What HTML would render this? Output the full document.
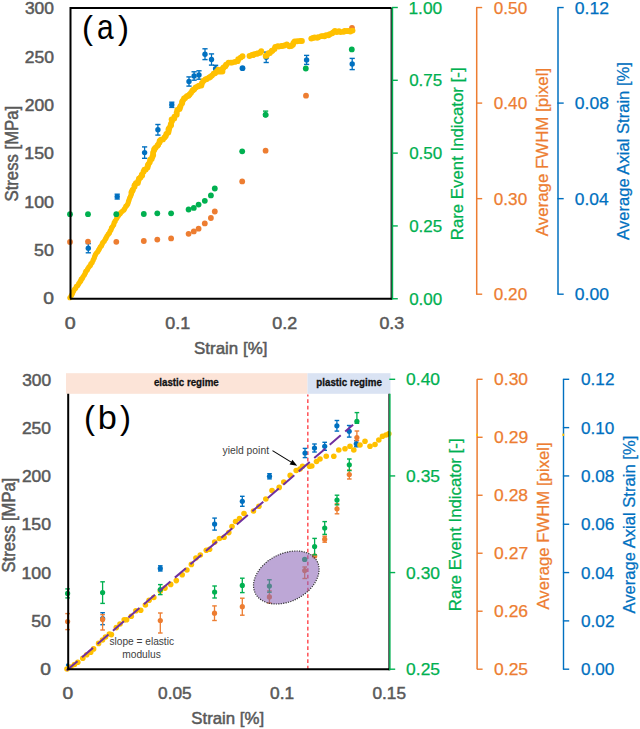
<!DOCTYPE html>
<html><head><meta charset="utf-8"><style>
html,body{margin:0;padding:0;background:#fff;width:640px;height:729px;overflow:hidden}
svg{display:block}
text{font-family:"Liberation Sans", sans-serif}
</style></head><body>
<svg width="640" height="729" viewBox="0 0 640 729">
<rect width="640" height="729" fill="#fff"/>
<text x="24.96" y="14.25" font-size="17" fill="#595959" font-weight="normal" textLength="29.00" lengthAdjust="spacingAndGlyphs" stroke="#595959" stroke-width="0.5">300</text>
<text x="24.70" y="62.55" font-size="17" fill="#595959" font-weight="normal" textLength="29.27" lengthAdjust="spacingAndGlyphs" stroke="#595959" stroke-width="0.5">250</text>
<text x="24.70" y="110.85" font-size="17" fill="#595959" font-weight="normal" textLength="29.27" lengthAdjust="spacingAndGlyphs" stroke="#595959" stroke-width="0.5">200</text>
<text x="24.29" y="159.15" font-size="17" fill="#595959" font-weight="normal" textLength="29.68" lengthAdjust="spacingAndGlyphs" stroke="#595959" stroke-width="0.5">150</text>
<text x="24.29" y="207.55" font-size="17" fill="#595959" font-weight="normal" textLength="29.68" lengthAdjust="spacingAndGlyphs" stroke="#595959" stroke-width="0.5">100</text>
<text x="34.12" y="255.85" font-size="17" fill="#595959" font-weight="normal" textLength="19.77" lengthAdjust="spacingAndGlyphs" stroke="#595959" stroke-width="0.5">50</text>
<text x="43.29" y="304.25" font-size="17" fill="#595959" font-weight="normal" textLength="10.71" lengthAdjust="spacingAndGlyphs" stroke="#595959" stroke-width="0.5">0</text>
<text x="64.88" y="328.75" font-size="17" fill="#595959" font-weight="normal" textLength="10.94" lengthAdjust="spacingAndGlyphs" stroke="#595959" stroke-width="0.5">0</text>
<text x="165.29" y="328.75" font-size="17" fill="#595959" font-weight="normal" textLength="24.89" lengthAdjust="spacingAndGlyphs" stroke="#595959" stroke-width="0.5">0.1</text>
<text x="272.29" y="328.75" font-size="17" fill="#595959" font-weight="normal" textLength="24.89" lengthAdjust="spacingAndGlyphs" stroke="#595959" stroke-width="0.5">0.2</text>
<text x="379.40" y="328.75" font-size="17" fill="#595959" font-weight="normal" textLength="24.75" lengthAdjust="spacingAndGlyphs" stroke="#595959" stroke-width="0.5">0.3</text>
<text x="194.00" y="353.75" font-size="17" fill="#595959" font-weight="normal" textLength="73.44" lengthAdjust="spacingAndGlyphs" stroke="#595959" stroke-width="0.5">Strain [%]</text>
<text transform="translate(17.70,200.70) rotate(-90)" x="-0.84" y="0" font-size="17.5" fill="#595959" font-weight="normal" textLength="95.77" lengthAdjust="spacingAndGlyphs" stroke="#595959" stroke-width="0.5">Stress [MPa]</text>
<text x="82.1" y="38.8" font-size="33" fill="#000">(</text>
<text transform="translate(98.2,39.0) scale(0.855,1)" x="-1.5" y="0" font-size="35" fill="#000">a</text>
<text x="118.05" y="38.8" font-size="33" fill="#000">)</text>
<line x1="88.30" y1="243.60" x2="88.30" y2="252.80" stroke="#0070C0" stroke-width="1.3" />
<line x1="85.70" y1="243.60" x2="90.90" y2="243.60" stroke="#0070C0" stroke-width="1.4" />
<line x1="85.70" y1="252.80" x2="90.90" y2="252.80" stroke="#0070C0" stroke-width="1.4" />
<circle cx="88.30" cy="248.20" r="2.7" fill="#0070C0"/>
<line x1="117.20" y1="194.20" x2="117.20" y2="199.00" stroke="#0070C0" stroke-width="1.3" />
<line x1="114.60" y1="194.20" x2="119.80" y2="194.20" stroke="#0070C0" stroke-width="1.4" />
<line x1="114.60" y1="199.00" x2="119.80" y2="199.00" stroke="#0070C0" stroke-width="1.4" />
<circle cx="117.20" cy="196.60" r="2.7" fill="#0070C0"/>
<line x1="144.60" y1="146.90" x2="144.60" y2="158.30" stroke="#0070C0" stroke-width="1.3" />
<line x1="142.00" y1="146.90" x2="147.20" y2="146.90" stroke="#0070C0" stroke-width="1.4" />
<line x1="142.00" y1="158.30" x2="147.20" y2="158.30" stroke="#0070C0" stroke-width="1.4" />
<circle cx="144.60" cy="152.60" r="2.7" fill="#0070C0"/>
<line x1="157.90" y1="124.50" x2="157.90" y2="135.10" stroke="#0070C0" stroke-width="1.3" />
<line x1="155.30" y1="124.50" x2="160.50" y2="124.50" stroke="#0070C0" stroke-width="1.4" />
<line x1="155.30" y1="135.10" x2="160.50" y2="135.10" stroke="#0070C0" stroke-width="1.4" />
<circle cx="157.90" cy="129.80" r="2.7" fill="#0070C0"/>
<line x1="171.80" y1="102.20" x2="171.80" y2="107.40" stroke="#0070C0" stroke-width="1.3" />
<line x1="169.20" y1="102.20" x2="174.40" y2="102.20" stroke="#0070C0" stroke-width="1.4" />
<line x1="169.20" y1="107.40" x2="174.40" y2="107.40" stroke="#0070C0" stroke-width="1.4" />
<circle cx="171.80" cy="104.80" r="2.7" fill="#0070C0"/>
<line x1="189.00" y1="76.90" x2="189.00" y2="86.10" stroke="#0070C0" stroke-width="1.3" />
<line x1="186.40" y1="76.90" x2="191.60" y2="76.90" stroke="#0070C0" stroke-width="1.4" />
<line x1="186.40" y1="86.10" x2="191.60" y2="86.10" stroke="#0070C0" stroke-width="1.4" />
<circle cx="189.00" cy="81.50" r="2.7" fill="#0070C0"/>
<line x1="194.10" y1="71.80" x2="194.10" y2="80.20" stroke="#0070C0" stroke-width="1.3" />
<line x1="191.50" y1="71.80" x2="196.70" y2="71.80" stroke="#0070C0" stroke-width="1.4" />
<line x1="191.50" y1="80.20" x2="196.70" y2="80.20" stroke="#0070C0" stroke-width="1.4" />
<circle cx="194.10" cy="76.00" r="2.7" fill="#0070C0"/>
<line x1="199.00" y1="70.80" x2="199.00" y2="79.20" stroke="#0070C0" stroke-width="1.3" />
<line x1="196.40" y1="70.80" x2="201.60" y2="70.80" stroke="#0070C0" stroke-width="1.4" />
<line x1="196.40" y1="79.20" x2="201.60" y2="79.20" stroke="#0070C0" stroke-width="1.4" />
<circle cx="199.00" cy="75.00" r="2.7" fill="#0070C0"/>
<line x1="205.00" y1="48.80" x2="205.00" y2="59.60" stroke="#0070C0" stroke-width="1.3" />
<line x1="202.40" y1="48.80" x2="207.60" y2="48.80" stroke="#0070C0" stroke-width="1.4" />
<line x1="202.40" y1="59.60" x2="207.60" y2="59.60" stroke="#0070C0" stroke-width="1.4" />
<circle cx="205.00" cy="54.20" r="2.7" fill="#0070C0"/>
<line x1="211.50" y1="53.90" x2="211.50" y2="65.10" stroke="#0070C0" stroke-width="1.3" />
<line x1="208.90" y1="53.90" x2="214.10" y2="53.90" stroke="#0070C0" stroke-width="1.4" />
<line x1="208.90" y1="65.10" x2="214.10" y2="65.10" stroke="#0070C0" stroke-width="1.4" />
<circle cx="211.50" cy="59.50" r="2.7" fill="#0070C0"/>
<line x1="215.60" y1="65.30" x2="215.60" y2="72.30" stroke="#0070C0" stroke-width="1.3" />
<line x1="213.00" y1="65.30" x2="218.20" y2="65.30" stroke="#0070C0" stroke-width="1.4" />
<line x1="213.00" y1="72.30" x2="218.20" y2="72.30" stroke="#0070C0" stroke-width="1.4" />
<circle cx="215.60" cy="68.80" r="2.7" fill="#0070C0"/>
<circle cx="242.50" cy="68.20" r="2.9" fill="#0070C0"/>
<line x1="266.20" y1="52.10" x2="266.20" y2="62.50" stroke="#0070C0" stroke-width="1.3" />
<line x1="263.60" y1="52.10" x2="268.80" y2="52.10" stroke="#0070C0" stroke-width="1.4" />
<line x1="263.60" y1="62.50" x2="268.80" y2="62.50" stroke="#0070C0" stroke-width="1.4" />
<circle cx="266.20" cy="57.30" r="2.7" fill="#0070C0"/>
<line x1="306.60" y1="55.40" x2="306.60" y2="64.40" stroke="#0070C0" stroke-width="1.3" />
<line x1="304.00" y1="55.40" x2="309.20" y2="55.40" stroke="#0070C0" stroke-width="1.4" />
<line x1="304.00" y1="64.40" x2="309.20" y2="64.40" stroke="#0070C0" stroke-width="1.4" />
<circle cx="306.60" cy="59.90" r="2.7" fill="#0070C0"/>
<line x1="352.20" y1="58.40" x2="352.20" y2="69.60" stroke="#0070C0" stroke-width="1.3" />
<line x1="349.60" y1="58.40" x2="354.80" y2="58.40" stroke="#0070C0" stroke-width="1.4" />
<line x1="349.60" y1="69.60" x2="354.80" y2="69.60" stroke="#0070C0" stroke-width="1.4" />
<circle cx="352.20" cy="64.00" r="2.7" fill="#0070C0"/>
<circle cx="70.00" cy="242.00" r="2.9" fill="#ED7D31"/>
<circle cx="88.00" cy="241.60" r="2.9" fill="#ED7D31"/>
<circle cx="116.30" cy="241.80" r="2.9" fill="#ED7D31"/>
<circle cx="143.80" cy="241.00" r="2.9" fill="#ED7D31"/>
<circle cx="157.30" cy="239.60" r="2.9" fill="#ED7D31"/>
<circle cx="171.10" cy="238.40" r="2.9" fill="#ED7D31"/>
<circle cx="188.60" cy="233.80" r="2.9" fill="#ED7D31"/>
<circle cx="193.80" cy="231.40" r="2.9" fill="#ED7D31"/>
<circle cx="198.60" cy="228.70" r="2.9" fill="#ED7D31"/>
<circle cx="204.80" cy="223.40" r="2.9" fill="#ED7D31"/>
<circle cx="210.90" cy="218.00" r="2.9" fill="#ED7D31"/>
<circle cx="214.80" cy="211.50" r="2.9" fill="#ED7D31"/>
<circle cx="242.20" cy="181.40" r="2.9" fill="#ED7D31"/>
<circle cx="265.60" cy="150.70" r="2.9" fill="#ED7D31"/>
<circle cx="306.00" cy="95.70" r="2.9" fill="#ED7D31"/>
<circle cx="352.00" cy="27.80" r="2.9" fill="#ED7D31"/>
<circle cx="69.87" cy="297.74" r="2.6" fill="#FFC000"/>
<circle cx="71.06" cy="296.01" r="2.6" fill="#FFC000"/>
<circle cx="71.93" cy="294.57" r="2.6" fill="#FFC000"/>
<circle cx="72.52" cy="293.01" r="2.6" fill="#FFC000"/>
<circle cx="73.45" cy="291.28" r="2.6" fill="#FFC000"/>
<circle cx="74.43" cy="289.36" r="2.6" fill="#FFC000"/>
<circle cx="75.64" cy="288.25" r="2.6" fill="#FFC000"/>
<circle cx="76.39" cy="286.36" r="2.6" fill="#FFC000"/>
<circle cx="77.74" cy="285.48" r="2.6" fill="#FFC000"/>
<circle cx="78.67" cy="283.64" r="2.6" fill="#FFC000"/>
<circle cx="79.94" cy="281.95" r="2.6" fill="#FFC000"/>
<circle cx="80.83" cy="280.70" r="2.6" fill="#FFC000"/>
<circle cx="81.26" cy="279.14" r="2.6" fill="#FFC000"/>
<circle cx="82.36" cy="278.24" r="2.6" fill="#FFC000"/>
<circle cx="83.18" cy="276.48" r="2.6" fill="#FFC000"/>
<circle cx="84.44" cy="274.74" r="2.6" fill="#FFC000"/>
<circle cx="85.29" cy="272.92" r="2.6" fill="#FFC000"/>
<circle cx="85.84" cy="271.45" r="2.6" fill="#FFC000"/>
<circle cx="87.22" cy="270.03" r="2.6" fill="#FFC000"/>
<circle cx="87.86" cy="268.56" r="2.6" fill="#FFC000"/>
<circle cx="88.99" cy="266.80" r="2.6" fill="#FFC000"/>
<circle cx="90.27" cy="265.55" r="2.6" fill="#FFC000"/>
<circle cx="90.88" cy="263.91" r="2.6" fill="#FFC000"/>
<circle cx="92.12" cy="262.58" r="2.6" fill="#FFC000"/>
<circle cx="93.14" cy="260.14" r="2.6" fill="#FFC000"/>
<circle cx="94.19" cy="258.01" r="2.6" fill="#FFC000"/>
<circle cx="94.64" cy="256.49" r="2.6" fill="#FFC000"/>
<circle cx="95.37" cy="254.73" r="2.6" fill="#FFC000"/>
<circle cx="96.22" cy="253.29" r="2.6" fill="#FFC000"/>
<circle cx="97.70" cy="251.65" r="2.6" fill="#FFC000"/>
<circle cx="98.71" cy="249.89" r="2.6" fill="#FFC000"/>
<circle cx="99.51" cy="248.54" r="2.6" fill="#FFC000"/>
<circle cx="100.36" cy="246.87" r="2.6" fill="#FFC000"/>
<circle cx="101.49" cy="245.73" r="2.6" fill="#FFC000"/>
<circle cx="102.16" cy="244.02" r="2.6" fill="#FFC000"/>
<circle cx="102.79" cy="242.55" r="2.6" fill="#FFC000"/>
<circle cx="104.17" cy="241.27" r="2.6" fill="#FFC000"/>
<circle cx="105.24" cy="239.24" r="2.6" fill="#FFC000"/>
<circle cx="106.09" cy="237.88" r="2.6" fill="#FFC000"/>
<circle cx="106.99" cy="236.07" r="2.6" fill="#FFC000"/>
<circle cx="108.28" cy="234.16" r="2.6" fill="#FFC000"/>
<circle cx="109.37" cy="233.00" r="2.6" fill="#FFC000"/>
<circle cx="110.12" cy="230.99" r="2.6" fill="#FFC000"/>
<circle cx="111.02" cy="229.83" r="2.6" fill="#FFC000"/>
<circle cx="111.49" cy="227.89" r="2.6" fill="#FFC000"/>
<circle cx="112.54" cy="226.59" r="2.6" fill="#FFC000"/>
<circle cx="113.69" cy="224.70" r="2.6" fill="#FFC000"/>
<circle cx="114.23" cy="222.49" r="2.6" fill="#FFC000"/>
<circle cx="115.24" cy="220.96" r="2.6" fill="#FFC000"/>
<circle cx="116.64" cy="218.54" r="2.6" fill="#FFC000"/>
<circle cx="117.29" cy="217.00" r="2.6" fill="#FFC000"/>
<circle cx="118.57" cy="215.59" r="2.6" fill="#FFC000"/>
<circle cx="120.07" cy="213.82" r="2.6" fill="#FFC000"/>
<circle cx="120.80" cy="212.54" r="2.6" fill="#FFC000"/>
<circle cx="122.25" cy="211.25" r="2.6" fill="#FFC000"/>
<circle cx="123.86" cy="209.94" r="2.6" fill="#FFC000"/>
<circle cx="124.71" cy="208.49" r="2.6" fill="#FFC000"/>
<circle cx="125.78" cy="206.44" r="2.6" fill="#FFC000"/>
<circle cx="126.90" cy="205.36" r="2.6" fill="#FFC000"/>
<circle cx="127.83" cy="203.75" r="2.6" fill="#FFC000"/>
<circle cx="128.42" cy="201.82" r="2.6" fill="#FFC000"/>
<circle cx="128.94" cy="200.20" r="2.6" fill="#FFC000"/>
<circle cx="129.65" cy="197.98" r="2.6" fill="#FFC000"/>
<circle cx="130.50" cy="196.25" r="2.6" fill="#FFC000"/>
<circle cx="131.34" cy="194.36" r="2.6" fill="#FFC000"/>
<circle cx="131.45" cy="192.38" r="2.95" fill="#FFC000"/>
<circle cx="132.30" cy="190.82" r="2.95" fill="#FFC000"/>
<circle cx="132.89" cy="189.71" r="2.95" fill="#FFC000"/>
<circle cx="134.47" cy="186.75" r="2.95" fill="#FFC000"/>
<circle cx="134.63" cy="185.17" r="2.95" fill="#FFC000"/>
<circle cx="135.94" cy="183.31" r="2.95" fill="#FFC000"/>
<circle cx="137.80" cy="183.10" r="2.95" fill="#FFC000"/>
<circle cx="138.37" cy="180.82" r="2.95" fill="#FFC000"/>
<circle cx="138.94" cy="178.72" r="2.95" fill="#FFC000"/>
<circle cx="140.46" cy="177.45" r="2.95" fill="#FFC000"/>
<circle cx="142.12" cy="175.42" r="2.95" fill="#FFC000"/>
<circle cx="141.83" cy="174.73" r="2.95" fill="#FFC000"/>
<circle cx="143.52" cy="171.64" r="2.95" fill="#FFC000"/>
<circle cx="144.46" cy="169.59" r="2.95" fill="#FFC000"/>
<circle cx="145.71" cy="169.48" r="2.95" fill="#FFC000"/>
<circle cx="147.48" cy="167.53" r="2.95" fill="#FFC000"/>
<circle cx="147.84" cy="165.50" r="2.95" fill="#FFC000"/>
<circle cx="148.44" cy="164.23" r="2.95" fill="#FFC000"/>
<circle cx="149.73" cy="162.36" r="2.95" fill="#FFC000"/>
<circle cx="150.16" cy="159.64" r="2.95" fill="#FFC000"/>
<circle cx="151.63" cy="158.91" r="2.95" fill="#FFC000"/>
<circle cx="152.43" cy="156.76" r="2.95" fill="#FFC000"/>
<circle cx="153.18" cy="154.90" r="2.95" fill="#FFC000"/>
<circle cx="153.09" cy="152.81" r="2.95" fill="#FFC000"/>
<circle cx="154.08" cy="150.32" r="2.95" fill="#FFC000"/>
<circle cx="154.39" cy="148.94" r="2.95" fill="#FFC000"/>
<circle cx="155.54" cy="147.80" r="2.95" fill="#FFC000"/>
<circle cx="157.38" cy="145.68" r="2.95" fill="#FFC000"/>
<circle cx="158.16" cy="144.73" r="2.95" fill="#FFC000"/>
<circle cx="159.48" cy="142.50" r="2.95" fill="#FFC000"/>
<circle cx="159.68" cy="140.99" r="2.95" fill="#FFC000"/>
<circle cx="160.95" cy="139.66" r="2.95" fill="#FFC000"/>
<circle cx="162.89" cy="139.40" r="2.95" fill="#FFC000"/>
<circle cx="164.51" cy="137.47" r="2.95" fill="#FFC000"/>
<circle cx="165.73" cy="136.10" r="2.95" fill="#FFC000"/>
<circle cx="166.38" cy="134.04" r="2.95" fill="#FFC000"/>
<circle cx="168.29" cy="132.57" r="2.95" fill="#FFC000"/>
<circle cx="168.73" cy="130.47" r="2.95" fill="#FFC000"/>
<circle cx="168.54" cy="129.28" r="2.95" fill="#FFC000"/>
<circle cx="169.45" cy="127.65" r="2.95" fill="#FFC000"/>
<circle cx="171.03" cy="125.24" r="2.95" fill="#FFC000"/>
<circle cx="170.80" cy="124.27" r="2.95" fill="#FFC000"/>
<circle cx="171.91" cy="121.31" r="2.95" fill="#FFC000"/>
<circle cx="171.64" cy="119.48" r="2.95" fill="#FFC000"/>
<circle cx="174.21" cy="118.61" r="2.95" fill="#FFC000"/>
<circle cx="174.47" cy="116.79" r="2.95" fill="#FFC000"/>
<circle cx="176.67" cy="114.66" r="2.95" fill="#FFC000"/>
<circle cx="176.68" cy="112.62" r="2.95" fill="#FFC000"/>
<circle cx="177.30" cy="109.95" r="2.95" fill="#FFC000"/>
<circle cx="179.51" cy="109.02" r="2.95" fill="#FFC000"/>
<circle cx="179.77" cy="107.73" r="2.95" fill="#FFC000"/>
<circle cx="180.57" cy="105.92" r="2.95" fill="#FFC000"/>
<circle cx="182.09" cy="103.22" r="2.95" fill="#FFC000"/>
<circle cx="182.16" cy="101.62" r="2.95" fill="#FFC000"/>
<circle cx="183.08" cy="100.35" r="2.95" fill="#FFC000"/>
<circle cx="184.04" cy="98.38" r="2.95" fill="#FFC000"/>
<circle cx="185.17" cy="97.98" r="2.95" fill="#FFC000"/>
<circle cx="186.82" cy="96.16" r="2.95" fill="#FFC000"/>
<circle cx="188.49" cy="95.69" r="2.95" fill="#FFC000"/>
<circle cx="189.56" cy="94.57" r="2.95" fill="#FFC000"/>
<circle cx="191.00" cy="92.85" r="2.95" fill="#FFC000"/>
<circle cx="192.34" cy="90.78" r="2.95" fill="#FFC000"/>
<circle cx="193.51" cy="89.72" r="2.95" fill="#FFC000"/>
<circle cx="194.16" cy="89.35" r="2.95" fill="#FFC000"/>
<circle cx="195.71" cy="87.56" r="2.95" fill="#FFC000"/>
<circle cx="197.84" cy="86.38" r="2.95" fill="#FFC000"/>
<circle cx="199.11" cy="85.68" r="2.95" fill="#FFC000"/>
<circle cx="201.33" cy="85.43" r="2.95" fill="#FFC000"/>
<circle cx="201.91" cy="83.22" r="2.95" fill="#FFC000"/>
<circle cx="203.37" cy="80.93" r="2.95" fill="#FFC000"/>
<circle cx="205.41" cy="79.41" r="2.95" fill="#FFC000"/>
<circle cx="206.76" cy="78.96" r="2.95" fill="#FFC000"/>
<circle cx="208.95" cy="77.65" r="2.95" fill="#FFC000"/>
<circle cx="210.17" cy="76.91" r="2.95" fill="#FFC000"/>
<circle cx="211.89" cy="75.61" r="2.95" fill="#FFC000"/>
<circle cx="213.68" cy="73.80" r="2.95" fill="#FFC000"/>
<circle cx="214.97" cy="73.16" r="2.95" fill="#FFC000"/>
<circle cx="216.55" cy="71.81" r="2.95" fill="#FFC000"/>
<circle cx="218.16" cy="69.64" r="2.95" fill="#FFC000"/>
<circle cx="219.79" cy="71.66" r="2.95" fill="#FFC000"/>
<circle cx="222.41" cy="71.46" r="2.95" fill="#FFC000"/>
<circle cx="222.11" cy="70.31" r="2.95" fill="#FFC000"/>
<circle cx="222.81" cy="68.41" r="2.95" fill="#FFC000"/>
<circle cx="223.58" cy="67.45" r="2.95" fill="#FFC000"/>
<circle cx="225.43" cy="66.20" r="2.95" fill="#FFC000"/>
<circle cx="226.15" cy="64.69" r="2.95" fill="#FFC000"/>
<circle cx="228.57" cy="62.60" r="2.95" fill="#FFC000"/>
<circle cx="230.57" cy="62.60" r="2.95" fill="#FFC000"/>
<circle cx="232.08" cy="62.58" r="2.95" fill="#FFC000"/>
<circle cx="234.85" cy="61.88" r="2.95" fill="#FFC000"/>
<circle cx="237.61" cy="61.15" r="2.95" fill="#FFC000"/>
<circle cx="238.24" cy="59.30" r="2.95" fill="#FFC000"/>
<circle cx="240.65" cy="57.58" r="2.95" fill="#FFC000"/>
<circle cx="242.50" cy="56.25" r="2.95" fill="#FFC000"/>
<circle cx="249.54" cy="55.98" r="2.95" fill="#FFC000"/>
<circle cx="252.00" cy="54.91" r="2.95" fill="#FFC000"/>
<circle cx="253.41" cy="54.93" r="2.95" fill="#FFC000"/>
<circle cx="254.28" cy="54.15" r="2.95" fill="#FFC000"/>
<circle cx="256.75" cy="53.63" r="2.95" fill="#FFC000"/>
<circle cx="257.47" cy="53.55" r="2.95" fill="#FFC000"/>
<circle cx="260.12" cy="52.75" r="2.95" fill="#FFC000"/>
<circle cx="261.25" cy="51.25" r="2.95" fill="#FFC000"/>
<circle cx="265.66" cy="55.90" r="2.95" fill="#FFC000"/>
<circle cx="266.81" cy="55.42" r="2.95" fill="#FFC000"/>
<circle cx="268.41" cy="53.19" r="2.95" fill="#FFC000"/>
<circle cx="269.88" cy="53.12" r="2.95" fill="#FFC000"/>
<circle cx="271.73" cy="50.89" r="2.95" fill="#FFC000"/>
<circle cx="272.29" cy="50.63" r="2.95" fill="#FFC000"/>
<circle cx="274.48" cy="49.05" r="2.95" fill="#FFC000"/>
<circle cx="275.32" cy="46.84" r="2.95" fill="#FFC000"/>
<circle cx="277.78" cy="46.14" r="2.95" fill="#FFC000"/>
<circle cx="278.76" cy="46.58" r="2.95" fill="#FFC000"/>
<circle cx="281.50" cy="46.05" r="2.95" fill="#FFC000"/>
<circle cx="282.54" cy="45.83" r="2.95" fill="#FFC000"/>
<circle cx="284.38" cy="45.54" r="2.95" fill="#FFC000"/>
<circle cx="286.83" cy="44.46" r="2.95" fill="#FFC000"/>
<circle cx="289.33" cy="46.29" r="2.95" fill="#FFC000"/>
<circle cx="291.25" cy="46.04" r="2.95" fill="#FFC000"/>
<circle cx="292.87" cy="44.64" r="2.95" fill="#FFC000"/>
<circle cx="293.48" cy="42.96" r="2.95" fill="#FFC000"/>
<circle cx="294.63" cy="41.45" r="2.95" fill="#FFC000"/>
<circle cx="297.22" cy="41.31" r="2.95" fill="#FFC000"/>
<circle cx="300.09" cy="40.98" r="2.95" fill="#FFC000"/>
<circle cx="301.90" cy="41.00" r="2.95" fill="#FFC000"/>
<circle cx="311.30" cy="38.62" r="2.95" fill="#FFC000"/>
<circle cx="312.95" cy="37.90" r="2.95" fill="#FFC000"/>
<circle cx="314.68" cy="37.42" r="2.95" fill="#FFC000"/>
<circle cx="317.27" cy="37.75" r="2.95" fill="#FFC000"/>
<circle cx="318.33" cy="37.16" r="2.95" fill="#FFC000"/>
<circle cx="321.33" cy="36.13" r="2.95" fill="#FFC000"/>
<circle cx="323.03" cy="36.15" r="2.95" fill="#FFC000"/>
<circle cx="324.42" cy="36.28" r="2.95" fill="#FFC000"/>
<circle cx="326.14" cy="35.31" r="2.95" fill="#FFC000"/>
<circle cx="328.44" cy="35.28" r="2.95" fill="#FFC000"/>
<circle cx="329.78" cy="34.32" r="2.95" fill="#FFC000"/>
<circle cx="332.19" cy="33.28" r="2.95" fill="#FFC000"/>
<circle cx="333.60" cy="32.11" r="2.95" fill="#FFC000"/>
<circle cx="334.93" cy="31.04" r="2.95" fill="#FFC000"/>
<circle cx="336.83" cy="31.96" r="2.95" fill="#FFC000"/>
<circle cx="338.98" cy="31.09" r="2.95" fill="#FFC000"/>
<circle cx="340.60" cy="32.11" r="2.95" fill="#FFC000"/>
<circle cx="343.66" cy="31.86" r="2.95" fill="#FFC000"/>
<circle cx="344.65" cy="31.01" r="2.95" fill="#FFC000"/>
<circle cx="346.55" cy="31.14" r="2.95" fill="#FFC000"/>
<circle cx="348.23" cy="30.92" r="2.95" fill="#FFC000"/>
<circle cx="350.26" cy="31.49" r="2.95" fill="#FFC000"/>
<circle cx="352.50" cy="30.60" r="2.95" fill="#FFC000"/>
<circle cx="70.00" cy="214.20" r="2.9" fill="#00B050"/>
<circle cx="88.00" cy="214.20" r="2.9" fill="#00B050"/>
<circle cx="116.30" cy="214.20" r="2.9" fill="#00B050"/>
<circle cx="143.80" cy="214.00" r="2.9" fill="#00B050"/>
<circle cx="157.30" cy="213.30" r="2.9" fill="#00B050"/>
<circle cx="171.10" cy="213.30" r="2.9" fill="#00B050"/>
<circle cx="188.60" cy="209.50" r="2.9" fill="#00B050"/>
<circle cx="193.80" cy="207.90" r="2.9" fill="#00B050"/>
<circle cx="198.60" cy="204.60" r="2.9" fill="#00B050"/>
<circle cx="204.80" cy="200.80" r="2.9" fill="#00B050"/>
<circle cx="210.90" cy="195.40" r="2.9" fill="#00B050"/>
<circle cx="214.80" cy="188.50" r="2.9" fill="#00B050"/>
<circle cx="242.20" cy="151.30" r="2.9" fill="#00B050"/>
<circle cx="265.60" cy="114.80" r="2.9" fill="#00B050"/>
<circle cx="305.80" cy="68.50" r="2.9" fill="#00B050"/>
<circle cx="351.80" cy="49.40" r="2.9" fill="#00B050"/>
<line x1="265.60" y1="111.10" x2="265.60" y2="116.00" stroke="#00B050" stroke-width="1.3" />
<line x1="263.00" y1="111.10" x2="268.20" y2="111.10" stroke="#00B050" stroke-width="1.4" />
<line x1="263.00" y1="116.00" x2="268.20" y2="116.00" stroke="#00B050" stroke-width="1.4" />
<circle cx="265.60" cy="114.80" r="2.7" fill="#00B050"/>
<path d="M70.5,298.6 L70.5,8 L391.5,8" fill="none" stroke="#000" stroke-width="2"/>
<line x1="70.00" y1="298.75" x2="392.00" y2="298.75" stroke="#000" stroke-width="2" />
<line x1="391.20" y1="8.00" x2="391.20" y2="299.50" stroke="#000" stroke-width="1.2" />
<line x1="392.50" y1="7.50" x2="392.50" y2="299.50" stroke="#00B050" stroke-width="1.4" />
<line x1="392.00" y1="7.50" x2="397.80" y2="7.50" stroke="#00B050" stroke-width="1.4" />
<text x="408.48" y="13.50" font-size="16.5" fill="#00B050" font-weight="normal" textLength="33.79" lengthAdjust="spacingAndGlyphs" stroke="#00B050" stroke-width="0.25">1.00</text>
<line x1="392.00" y1="80.31" x2="397.80" y2="80.31" stroke="#00B050" stroke-width="1.4" />
<text x="409.16" y="86.31" font-size="16.5" fill="#00B050" font-weight="normal" textLength="33.10" lengthAdjust="spacingAndGlyphs" stroke="#00B050" stroke-width="0.25">0.75</text>
<line x1="392.00" y1="153.12" x2="397.80" y2="153.12" stroke="#00B050" stroke-width="1.4" />
<text x="409.16" y="159.12" font-size="16.5" fill="#00B050" font-weight="normal" textLength="33.10" lengthAdjust="spacingAndGlyphs" stroke="#00B050" stroke-width="0.25">0.50</text>
<line x1="392.00" y1="225.94" x2="397.80" y2="225.94" stroke="#00B050" stroke-width="1.4" />
<text x="409.16" y="231.94" font-size="16.5" fill="#00B050" font-weight="normal" textLength="33.10" lengthAdjust="spacingAndGlyphs" stroke="#00B050" stroke-width="0.25">0.25</text>
<line x1="392.00" y1="298.75" x2="397.80" y2="298.75" stroke="#00B050" stroke-width="1.4" />
<text x="409.16" y="304.75" font-size="16.5" fill="#00B050" font-weight="normal" textLength="33.10" lengthAdjust="spacingAndGlyphs" stroke="#00B050" stroke-width="0.25">0.00</text>
<text transform="translate(463.20,238.90) rotate(-90)" x="-1.36" y="0" font-size="17" fill="#00B050" font-weight="normal" textLength="172.82" lengthAdjust="spacingAndGlyphs" stroke="#00B050" stroke-width="0.25">Rare Event Indicator [-]</text>
<line x1="476.70" y1="7.50" x2="476.70" y2="294.30" stroke="#ED7D31" stroke-width="1.5" />
<line x1="476.10" y1="7.55" x2="482.20" y2="7.55" stroke="#ED7D31" stroke-width="1.4" />
<text x="493.85" y="13.55" font-size="16.5" fill="#ED7D31" font-weight="normal" textLength="33.31" lengthAdjust="spacingAndGlyphs" stroke="#ED7D31" stroke-width="0.25">0.50</text>
<line x1="476.10" y1="103.10" x2="482.20" y2="103.10" stroke="#ED7D31" stroke-width="1.4" />
<text x="493.85" y="109.10" font-size="16.5" fill="#ED7D31" font-weight="normal" textLength="33.31" lengthAdjust="spacingAndGlyphs" stroke="#ED7D31" stroke-width="0.25">0.40</text>
<line x1="476.10" y1="198.65" x2="482.20" y2="198.65" stroke="#ED7D31" stroke-width="1.4" />
<text x="493.85" y="204.65" font-size="16.5" fill="#ED7D31" font-weight="normal" textLength="33.31" lengthAdjust="spacingAndGlyphs" stroke="#ED7D31" stroke-width="0.25">0.30</text>
<line x1="476.10" y1="294.20" x2="482.20" y2="294.20" stroke="#ED7D31" stroke-width="1.4" />
<text x="493.85" y="300.20" font-size="16.5" fill="#ED7D31" font-weight="normal" textLength="33.31" lengthAdjust="spacingAndGlyphs" stroke="#ED7D31" stroke-width="0.25">0.20</text>
<text transform="translate(548.00,236.20) rotate(-90)" x="-0.00" y="0" font-size="17" fill="#ED7D31" font-weight="normal" textLength="168.33" lengthAdjust="spacingAndGlyphs" stroke="#ED7D31" stroke-width="0.25">Average FWHM [pixel]</text>
<line x1="558.00" y1="7.50" x2="558.00" y2="294.30" stroke="#0070C0" stroke-width="1.5" />
<line x1="557.40" y1="7.55" x2="563.70" y2="7.55" stroke="#0070C0" stroke-width="1.4" />
<text x="574.83" y="13.55" font-size="16.5" fill="#0070C0" font-weight="normal" textLength="34.29" lengthAdjust="spacingAndGlyphs" stroke="#0070C0" stroke-width="0.25">0.12</text>
<line x1="557.40" y1="103.10" x2="563.70" y2="103.10" stroke="#0070C0" stroke-width="1.4" />
<text x="574.84" y="109.10" font-size="16.5" fill="#0070C0" font-weight="normal" textLength="34.15" lengthAdjust="spacingAndGlyphs" stroke="#0070C0" stroke-width="0.25">0.08</text>
<line x1="557.40" y1="198.65" x2="563.70" y2="198.65" stroke="#0070C0" stroke-width="1.4" />
<text x="574.84" y="204.65" font-size="16.5" fill="#0070C0" font-weight="normal" textLength="33.87" lengthAdjust="spacingAndGlyphs" stroke="#0070C0" stroke-width="0.25">0.04</text>
<line x1="557.40" y1="294.20" x2="563.70" y2="294.20" stroke="#0070C0" stroke-width="1.4" />
<text x="574.84" y="300.20" font-size="16.5" fill="#0070C0" font-weight="normal" textLength="34.15" lengthAdjust="spacingAndGlyphs" stroke="#0070C0" stroke-width="0.25">0.00</text>
<text transform="translate(629.10,239.90) rotate(-90)" x="-0.00" y="0" font-size="17" fill="#0070C0" font-weight="normal" textLength="177.87" lengthAdjust="spacingAndGlyphs" stroke="#0070C0" stroke-width="0.25">Average Axial Strain [%]</text>
<rect x="66" y="373.2" width="241.5" height="20.6" fill="#FCE4D8"/>
<rect x="307.5" y="373.2" width="83" height="20.6" fill="#DAE3F3"/>
<text x="153.95" y="386.30" font-size="10.5" fill="#111" font-weight="bold" textLength="64.82" lengthAdjust="spacingAndGlyphs" stroke="#111" stroke-width="0.3">elastic regime</text>
<text x="316.32" y="386.30" font-size="10.5" fill="#111" font-weight="bold" textLength="65.52" lengthAdjust="spacingAndGlyphs" stroke="#111" stroke-width="0.3">plastic regime</text>
<text x="22.16" y="385.55" font-size="17" fill="#595959" font-weight="normal" textLength="28.89" lengthAdjust="spacingAndGlyphs" stroke="#595959" stroke-width="0.5">300</text>
<text x="21.90" y="433.85" font-size="17" fill="#595959" font-weight="normal" textLength="29.16" lengthAdjust="spacingAndGlyphs" stroke="#595959" stroke-width="0.5">250</text>
<text x="21.90" y="482.15" font-size="17" fill="#595959" font-weight="normal" textLength="29.16" lengthAdjust="spacingAndGlyphs" stroke="#595959" stroke-width="0.5">200</text>
<text x="21.50" y="530.45" font-size="17" fill="#595959" font-weight="normal" textLength="29.58" lengthAdjust="spacingAndGlyphs" stroke="#595959" stroke-width="0.5">150</text>
<text x="21.50" y="578.75" font-size="17" fill="#595959" font-weight="normal" textLength="29.58" lengthAdjust="spacingAndGlyphs" stroke="#595959" stroke-width="0.5">100</text>
<text x="31.22" y="627.15" font-size="17" fill="#595959" font-weight="normal" textLength="19.77" lengthAdjust="spacingAndGlyphs" stroke="#595959" stroke-width="0.5">50</text>
<text x="40.39" y="675.45" font-size="17" fill="#595959" font-weight="normal" textLength="10.71" lengthAdjust="spacingAndGlyphs" stroke="#595959" stroke-width="0.5">0</text>
<text x="62.59" y="699.10" font-size="17" fill="#595959" font-weight="normal" textLength="10.71" lengthAdjust="spacingAndGlyphs" stroke="#595959" stroke-width="0.5">0</text>
<text x="158.07" y="699.10" font-size="17" fill="#595959" font-weight="normal" textLength="33.56" lengthAdjust="spacingAndGlyphs" stroke="#595959" stroke-width="0.5">0.05</text>
<text x="270.11" y="699.10" font-size="17" fill="#595959" font-weight="normal" textLength="24.03" lengthAdjust="spacingAndGlyphs" stroke="#595959" stroke-width="0.5">0.1</text>
<text x="372.47" y="699.10" font-size="17" fill="#595959" font-weight="normal" textLength="33.56" lengthAdjust="spacingAndGlyphs" stroke="#595959" stroke-width="0.5">0.15</text>
<text x="191.26" y="723.90" font-size="17" fill="#595959" font-weight="normal" textLength="72.92" lengthAdjust="spacingAndGlyphs" stroke="#595959" stroke-width="0.5">Strain [%]</text>
<text transform="translate(15.25,571.60) rotate(-90)" x="-0.83" y="0" font-size="17.5" fill="#595959" font-weight="normal" textLength="94.64" lengthAdjust="spacingAndGlyphs" stroke="#595959" stroke-width="0.5">Stress [MPa]</text>
<text x="84.0" y="428.6" font-size="33" fill="#000">(</text>
<text transform="translate(100.0,428.6) scale(1.04,1)" x="-2.1" y="0" font-size="33" fill="#000">b</text>
<text x="120.0" y="428.6" font-size="33" fill="#000">)</text>
<line x1="307.80" y1="394.50" x2="307.80" y2="669.00" stroke="#FF5A5F" stroke-width="1.6" stroke-dasharray="3.6,2.9" stroke-dashoffset="1.7"/>
<circle cx="67.60" cy="665.00" r="1.8" fill="#0070C0"/>
<line x1="102.60" y1="612.70" x2="102.60" y2="624.70" stroke="#0070C0" stroke-width="1.3" />
<line x1="100.30" y1="612.70" x2="104.90" y2="612.70" stroke="#0070C0" stroke-width="1.4" />
<line x1="100.30" y1="624.70" x2="104.90" y2="624.70" stroke="#0070C0" stroke-width="1.4" />
<circle cx="102.60" cy="618.70" r="2.6" fill="#0070C0"/>
<line x1="160.30" y1="565.80" x2="160.30" y2="571.00" stroke="#0070C0" stroke-width="1.3" />
<line x1="158.00" y1="565.80" x2="162.60" y2="565.80" stroke="#0070C0" stroke-width="1.4" />
<line x1="158.00" y1="571.00" x2="162.60" y2="571.00" stroke="#0070C0" stroke-width="1.4" />
<circle cx="160.30" cy="568.40" r="2.6" fill="#0070C0"/>
<line x1="214.60" y1="518.10" x2="214.60" y2="530.10" stroke="#0070C0" stroke-width="1.3" />
<line x1="212.30" y1="518.10" x2="216.90" y2="518.10" stroke="#0070C0" stroke-width="1.4" />
<line x1="212.30" y1="530.10" x2="216.90" y2="530.10" stroke="#0070C0" stroke-width="1.4" />
<circle cx="214.60" cy="524.10" r="2.6" fill="#0070C0"/>
<line x1="242.30" y1="496.30" x2="242.30" y2="506.30" stroke="#0070C0" stroke-width="1.3" />
<line x1="240.00" y1="496.30" x2="244.60" y2="496.30" stroke="#0070C0" stroke-width="1.4" />
<line x1="240.00" y1="506.30" x2="244.60" y2="506.30" stroke="#0070C0" stroke-width="1.4" />
<circle cx="242.30" cy="501.30" r="2.6" fill="#0070C0"/>
<line x1="269.50" y1="473.70" x2="269.50" y2="478.90" stroke="#0070C0" stroke-width="1.3" />
<line x1="267.20" y1="473.70" x2="271.80" y2="473.70" stroke="#0070C0" stroke-width="1.4" />
<line x1="267.20" y1="478.90" x2="271.80" y2="478.90" stroke="#0070C0" stroke-width="1.4" />
<circle cx="269.50" cy="476.30" r="2.6" fill="#0070C0"/>
<line x1="305.00" y1="448.40" x2="305.00" y2="457.60" stroke="#0070C0" stroke-width="1.3" />
<line x1="302.70" y1="448.40" x2="307.30" y2="448.40" stroke="#0070C0" stroke-width="1.4" />
<line x1="302.70" y1="457.60" x2="307.30" y2="457.60" stroke="#0070C0" stroke-width="1.4" />
<circle cx="305.00" cy="453.00" r="2.6" fill="#0070C0"/>
<line x1="314.50" y1="444.00" x2="314.50" y2="452.00" stroke="#0070C0" stroke-width="1.3" />
<line x1="312.20" y1="444.00" x2="316.80" y2="444.00" stroke="#0070C0" stroke-width="1.4" />
<line x1="312.20" y1="452.00" x2="316.80" y2="452.00" stroke="#0070C0" stroke-width="1.4" />
<circle cx="314.50" cy="448.00" r="2.6" fill="#0070C0"/>
<line x1="324.70" y1="442.30" x2="324.70" y2="450.30" stroke="#0070C0" stroke-width="1.3" />
<line x1="322.40" y1="442.30" x2="327.00" y2="442.30" stroke="#0070C0" stroke-width="1.4" />
<line x1="322.40" y1="450.30" x2="327.00" y2="450.30" stroke="#0070C0" stroke-width="1.4" />
<circle cx="324.70" cy="446.30" r="2.6" fill="#0070C0"/>
<line x1="336.90" y1="420.50" x2="336.90" y2="431.10" stroke="#0070C0" stroke-width="1.3" />
<line x1="334.60" y1="420.50" x2="339.20" y2="420.50" stroke="#0070C0" stroke-width="1.4" />
<line x1="334.60" y1="431.10" x2="339.20" y2="431.10" stroke="#0070C0" stroke-width="1.4" />
<circle cx="336.90" cy="425.80" r="2.6" fill="#0070C0"/>
<line x1="349.20" y1="425.50" x2="349.20" y2="437.10" stroke="#0070C0" stroke-width="1.3" />
<line x1="346.90" y1="425.50" x2="351.50" y2="425.50" stroke="#0070C0" stroke-width="1.4" />
<line x1="346.90" y1="437.10" x2="351.50" y2="437.10" stroke="#0070C0" stroke-width="1.4" />
<circle cx="349.20" cy="431.30" r="2.6" fill="#0070C0"/>
<line x1="356.30" y1="440.80" x2="356.30" y2="446.80" stroke="#0070C0" stroke-width="1.3" />
<line x1="354.00" y1="440.80" x2="358.60" y2="440.80" stroke="#0070C0" stroke-width="1.4" />
<line x1="354.00" y1="446.80" x2="358.60" y2="446.80" stroke="#0070C0" stroke-width="1.4" />
<circle cx="356.30" cy="443.80" r="2.6" fill="#0070C0"/>
<line x1="67.60" y1="613.60" x2="67.60" y2="629.60" stroke="#ED7D31" stroke-width="1.3" />
<line x1="65.30" y1="613.60" x2="69.90" y2="613.60" stroke="#ED7D31" stroke-width="1.4" />
<line x1="65.30" y1="629.60" x2="69.90" y2="629.60" stroke="#ED7D31" stroke-width="1.4" />
<circle cx="67.60" cy="621.60" r="2.6" fill="#ED7D31"/>
<line x1="102.60" y1="614.60" x2="102.60" y2="630.00" stroke="#ED7D31" stroke-width="1.3" />
<line x1="100.30" y1="614.60" x2="104.90" y2="614.60" stroke="#ED7D31" stroke-width="1.4" />
<line x1="100.30" y1="630.00" x2="104.90" y2="630.00" stroke="#ED7D31" stroke-width="1.4" />
<circle cx="102.60" cy="619.40" r="2.6" fill="#ED7D31"/>
<line x1="160.30" y1="613.00" x2="160.30" y2="633.00" stroke="#ED7D31" stroke-width="1.3" />
<line x1="158.00" y1="613.00" x2="162.60" y2="613.00" stroke="#ED7D31" stroke-width="1.4" />
<line x1="158.00" y1="633.00" x2="162.60" y2="633.00" stroke="#ED7D31" stroke-width="1.4" />
<circle cx="160.30" cy="620.50" r="2.6" fill="#ED7D31"/>
<line x1="214.50" y1="605.90" x2="214.50" y2="620.50" stroke="#ED7D31" stroke-width="1.3" />
<line x1="212.20" y1="605.90" x2="216.80" y2="605.90" stroke="#ED7D31" stroke-width="1.4" />
<line x1="212.20" y1="620.50" x2="216.80" y2="620.50" stroke="#ED7D31" stroke-width="1.4" />
<circle cx="214.50" cy="613.20" r="2.6" fill="#ED7D31"/>
<line x1="242.30" y1="598.20" x2="242.30" y2="615.20" stroke="#ED7D31" stroke-width="1.3" />
<line x1="240.00" y1="598.20" x2="244.60" y2="598.20" stroke="#ED7D31" stroke-width="1.4" />
<line x1="240.00" y1="615.20" x2="244.60" y2="615.20" stroke="#ED7D31" stroke-width="1.4" />
<circle cx="242.30" cy="606.70" r="2.6" fill="#ED7D31"/>
<line x1="269.40" y1="590.90" x2="269.40" y2="602.90" stroke="#ED7D31" stroke-width="1.3" />
<line x1="267.10" y1="590.90" x2="271.70" y2="590.90" stroke="#ED7D31" stroke-width="1.4" />
<line x1="267.10" y1="602.90" x2="271.70" y2="602.90" stroke="#ED7D31" stroke-width="1.4" />
<circle cx="269.40" cy="596.90" r="2.6" fill="#ED7D31"/>
<line x1="304.70" y1="567.00" x2="304.70" y2="578.50" stroke="#ED7D31" stroke-width="1.3" />
<line x1="302.40" y1="567.00" x2="307.00" y2="567.00" stroke="#ED7D31" stroke-width="1.4" />
<line x1="302.40" y1="578.50" x2="307.00" y2="578.50" stroke="#ED7D31" stroke-width="1.4" />
<circle cx="304.70" cy="570.60" r="2.6" fill="#ED7D31"/>
<circle cx="314.60" cy="556.00" r="2.7" fill="#ED7D31"/>
<line x1="324.70" y1="536.20" x2="324.70" y2="542.20" stroke="#ED7D31" stroke-width="1.3" />
<line x1="322.40" y1="536.20" x2="327.00" y2="536.20" stroke="#ED7D31" stroke-width="1.4" />
<line x1="322.40" y1="542.20" x2="327.00" y2="542.20" stroke="#ED7D31" stroke-width="1.4" />
<circle cx="324.70" cy="539.20" r="2.6" fill="#ED7D31"/>
<line x1="337.00" y1="503.80" x2="337.00" y2="513.80" stroke="#ED7D31" stroke-width="1.3" />
<line x1="334.70" y1="503.80" x2="339.30" y2="503.80" stroke="#ED7D31" stroke-width="1.4" />
<line x1="334.70" y1="513.80" x2="339.30" y2="513.80" stroke="#ED7D31" stroke-width="1.4" />
<circle cx="337.00" cy="508.80" r="2.6" fill="#ED7D31"/>
<line x1="349.30" y1="470.00" x2="349.30" y2="479.00" stroke="#ED7D31" stroke-width="1.3" />
<line x1="347.00" y1="470.00" x2="351.60" y2="470.00" stroke="#ED7D31" stroke-width="1.4" />
<line x1="347.00" y1="479.00" x2="351.60" y2="479.00" stroke="#ED7D31" stroke-width="1.4" />
<circle cx="349.30" cy="474.50" r="2.6" fill="#ED7D31"/>
<line x1="356.90" y1="431.00" x2="356.90" y2="440.50" stroke="#ED7D31" stroke-width="1.3" />
<line x1="354.60" y1="431.00" x2="359.20" y2="431.00" stroke="#ED7D31" stroke-width="1.4" />
<line x1="354.60" y1="440.50" x2="359.20" y2="440.50" stroke="#ED7D31" stroke-width="1.4" />
<circle cx="356.90" cy="437.50" r="2.6" fill="#ED7D31"/>
<circle cx="67.00" cy="669.00" r="2.8" fill="#FFC000"/>
<circle cx="70.90" cy="667.00" r="2.8" fill="#FFC000"/>
<circle cx="74.50" cy="664.50" r="2.8" fill="#FFC000"/>
<circle cx="77.80" cy="662.20" r="2.8" fill="#FFC000"/>
<circle cx="82.80" cy="658.20" r="2.8" fill="#FFC000"/>
<circle cx="86.70" cy="654.80" r="2.8" fill="#FFC000"/>
<circle cx="90.70" cy="652.30" r="2.8" fill="#FFC000"/>
<circle cx="93.60" cy="648.90" r="2.8" fill="#FFC000"/>
<circle cx="98.60" cy="643.40" r="2.8" fill="#FFC000"/>
<circle cx="102.50" cy="640.00" r="2.8" fill="#FFC000"/>
<circle cx="105.50" cy="637.00" r="2.8" fill="#FFC000"/>
<circle cx="109.40" cy="634.00" r="2.8" fill="#FFC000"/>
<circle cx="111.40" cy="634.60" r="2.8" fill="#FFC000"/>
<circle cx="116.30" cy="627.60" r="2.8" fill="#FFC000"/>
<circle cx="120.00" cy="624.00" r="2.8" fill="#FFC000"/>
<circle cx="124.20" cy="619.70" r="2.8" fill="#FFC000"/>
<circle cx="126.60" cy="619.70" r="2.8" fill="#FFC000"/>
<circle cx="131.30" cy="616.30" r="2.8" fill="#FFC000"/>
<circle cx="135.90" cy="610.70" r="2.8" fill="#FFC000"/>
<circle cx="140.70" cy="610.30" r="2.8" fill="#FFC000"/>
<circle cx="145.40" cy="605.00" r="2.8" fill="#FFC000"/>
<circle cx="149.10" cy="600.30" r="2.8" fill="#FFC000"/>
<circle cx="153.80" cy="597.50" r="2.8" fill="#FFC000"/>
<circle cx="160.30" cy="590.90" r="2.8" fill="#FFC000"/>
<circle cx="165.00" cy="588.10" r="2.8" fill="#FFC000"/>
<circle cx="170.70" cy="584.40" r="2.8" fill="#FFC000"/>
<circle cx="176.30" cy="580.60" r="2.8" fill="#FFC000"/>
<circle cx="182.20" cy="574.70" r="2.8" fill="#FFC000"/>
<circle cx="186.90" cy="570.00" r="2.8" fill="#FFC000"/>
<circle cx="191.40" cy="564.40" r="2.8" fill="#FFC000"/>
<circle cx="195.90" cy="558.00" r="2.8" fill="#FFC000"/>
<circle cx="200.30" cy="555.00" r="2.8" fill="#FFC000"/>
<circle cx="206.30" cy="550.30" r="2.8" fill="#FFC000"/>
<circle cx="209.60" cy="549.30" r="2.8" fill="#FFC000"/>
<circle cx="214.70" cy="542.10" r="2.8" fill="#FFC000"/>
<circle cx="219.40" cy="538.50" r="2.8" fill="#FFC000"/>
<circle cx="224.10" cy="537.30" r="2.8" fill="#FFC000"/>
<circle cx="228.80" cy="532.60" r="2.8" fill="#FFC000"/>
<circle cx="232.00" cy="526.50" r="2.8" fill="#FFC000"/>
<circle cx="235.60" cy="521.50" r="2.8" fill="#FFC000"/>
<circle cx="239.50" cy="518.50" r="2.8" fill="#FFC000"/>
<circle cx="244.00" cy="513.50" r="2.8" fill="#FFC000"/>
<circle cx="253.50" cy="511.00" r="2.8" fill="#FFC000"/>
<circle cx="258.90" cy="506.20" r="2.8" fill="#FFC000"/>
<circle cx="265.80" cy="499.00" r="2.8" fill="#FFC000"/>
<circle cx="272.00" cy="490.50" r="2.8" fill="#FFC000"/>
<circle cx="279.20" cy="487.40" r="2.8" fill="#FFC000"/>
<circle cx="283.80" cy="482.00" r="2.8" fill="#FFC000"/>
<circle cx="290.20" cy="475.40" r="2.8" fill="#FFC000"/>
<circle cx="296.20" cy="470.50" r="2.8" fill="#FFC000"/>
<circle cx="300.00" cy="469.00" r="2.8" fill="#FFC000"/>
<circle cx="302.50" cy="466.30" r="2.8" fill="#FFC000"/>
<circle cx="309.50" cy="466.30" r="2.8" fill="#FFC000"/>
<circle cx="311.80" cy="466.00" r="2.8" fill="#FFC000"/>
<circle cx="316.50" cy="461.50" r="2.8" fill="#FFC000"/>
<circle cx="320.00" cy="459.00" r="2.8" fill="#FFC000"/>
<circle cx="326.25" cy="456.25" r="2.8" fill="#FFC000"/>
<circle cx="333.80" cy="456.30" r="2.8" fill="#FFC000"/>
<circle cx="338.80" cy="450.00" r="2.8" fill="#FFC000"/>
<circle cx="345.00" cy="448.80" r="2.8" fill="#FFC000"/>
<circle cx="350.00" cy="446.30" r="2.8" fill="#FFC000"/>
<circle cx="353.80" cy="450.00" r="2.8" fill="#FFC000"/>
<circle cx="360.00" cy="445.00" r="2.8" fill="#FFC000"/>
<circle cx="365.00" cy="441.30" r="2.8" fill="#FFC000"/>
<circle cx="370.00" cy="446.30" r="2.8" fill="#FFC000"/>
<circle cx="375.00" cy="444.50" r="2.8" fill="#FFC000"/>
<circle cx="378.80" cy="440.00" r="2.8" fill="#FFC000"/>
<circle cx="382.50" cy="436.30" r="2.8" fill="#FFC000"/>
<circle cx="386.00" cy="435.00" r="2.8" fill="#FFC000"/>
<circle cx="388.80" cy="433.80" r="2.8" fill="#FFC000"/>
<line x1="67.60" y1="588.90" x2="67.60" y2="597.90" stroke="#00B050" stroke-width="1.3" />
<line x1="65.30" y1="588.90" x2="69.90" y2="588.90" stroke="#00B050" stroke-width="1.4" />
<line x1="65.30" y1="597.90" x2="69.90" y2="597.90" stroke="#00B050" stroke-width="1.4" />
<circle cx="67.60" cy="593.40" r="2.6" fill="#00B050"/>
<line x1="102.60" y1="581.80" x2="102.60" y2="603.40" stroke="#00B050" stroke-width="1.3" />
<line x1="100.30" y1="581.80" x2="104.90" y2="581.80" stroke="#00B050" stroke-width="1.4" />
<line x1="100.30" y1="603.40" x2="104.90" y2="603.40" stroke="#00B050" stroke-width="1.4" />
<circle cx="102.60" cy="592.60" r="2.6" fill="#00B050"/>
<line x1="160.30" y1="584.60" x2="160.30" y2="594.60" stroke="#00B050" stroke-width="1.3" />
<line x1="158.00" y1="584.60" x2="162.60" y2="584.60" stroke="#00B050" stroke-width="1.4" />
<line x1="158.00" y1="594.60" x2="162.60" y2="594.60" stroke="#00B050" stroke-width="1.4" />
<circle cx="160.30" cy="589.60" r="2.6" fill="#00B050"/>
<line x1="214.60" y1="586.00" x2="214.60" y2="598.00" stroke="#00B050" stroke-width="1.3" />
<line x1="212.30" y1="586.00" x2="216.90" y2="586.00" stroke="#00B050" stroke-width="1.4" />
<line x1="212.30" y1="598.00" x2="216.90" y2="598.00" stroke="#00B050" stroke-width="1.4" />
<circle cx="214.60" cy="592.00" r="2.6" fill="#00B050"/>
<line x1="242.30" y1="578.20" x2="242.30" y2="592.60" stroke="#00B050" stroke-width="1.3" />
<line x1="240.00" y1="578.20" x2="244.60" y2="578.20" stroke="#00B050" stroke-width="1.4" />
<line x1="240.00" y1="592.60" x2="244.60" y2="592.60" stroke="#00B050" stroke-width="1.4" />
<circle cx="242.30" cy="585.40" r="2.6" fill="#00B050"/>
<line x1="269.40" y1="579.80" x2="269.40" y2="592.20" stroke="#00B050" stroke-width="1.3" />
<line x1="267.10" y1="579.80" x2="271.70" y2="579.80" stroke="#00B050" stroke-width="1.4" />
<line x1="267.10" y1="592.20" x2="271.70" y2="592.20" stroke="#00B050" stroke-width="1.4" />
<circle cx="269.40" cy="586.00" r="2.6" fill="#00B050"/>
<circle cx="304.70" cy="559.40" r="2.7" fill="#00B050"/>
<line x1="314.60" y1="538.40" x2="314.60" y2="554.80" stroke="#00B050" stroke-width="1.3" />
<line x1="312.30" y1="538.40" x2="316.90" y2="538.40" stroke="#00B050" stroke-width="1.4" />
<line x1="312.30" y1="554.80" x2="316.90" y2="554.80" stroke="#00B050" stroke-width="1.4" />
<circle cx="314.60" cy="546.60" r="2.6" fill="#00B050"/>
<line x1="324.70" y1="521.60" x2="324.70" y2="534.40" stroke="#00B050" stroke-width="1.3" />
<line x1="322.40" y1="521.60" x2="327.00" y2="521.60" stroke="#00B050" stroke-width="1.4" />
<line x1="322.40" y1="534.40" x2="327.00" y2="534.40" stroke="#00B050" stroke-width="1.4" />
<circle cx="324.70" cy="528.00" r="2.6" fill="#00B050"/>
<line x1="337.00" y1="495.20" x2="337.00" y2="504.80" stroke="#00B050" stroke-width="1.3" />
<line x1="334.70" y1="495.20" x2="339.30" y2="495.20" stroke="#00B050" stroke-width="1.4" />
<line x1="334.70" y1="504.80" x2="339.30" y2="504.80" stroke="#00B050" stroke-width="1.4" />
<circle cx="337.00" cy="500.00" r="2.6" fill="#00B050"/>
<line x1="349.30" y1="459.00" x2="349.30" y2="470.60" stroke="#00B050" stroke-width="1.3" />
<line x1="347.00" y1="459.00" x2="351.60" y2="459.00" stroke="#00B050" stroke-width="1.4" />
<line x1="347.00" y1="470.60" x2="351.60" y2="470.60" stroke="#00B050" stroke-width="1.4" />
<circle cx="349.30" cy="464.80" r="2.6" fill="#00B050"/>
<line x1="356.90" y1="412.60" x2="356.90" y2="423.30" stroke="#00B050" stroke-width="1.3" />
<line x1="354.60" y1="412.60" x2="359.20" y2="412.60" stroke="#00B050" stroke-width="1.4" />
<line x1="354.60" y1="423.30" x2="359.20" y2="423.30" stroke="#00B050" stroke-width="1.4" />
<circle cx="356.90" cy="421.30" r="2.6" fill="#00B050"/>
<line x1="66.5" y1="670.6" x2="353.1" y2="424.75" stroke="#7030A0" stroke-width="2.0" stroke-dasharray="14.5,5.9"/>
<ellipse cx="286.3" cy="577.5" rx="34.8" ry="23.8" transform="rotate(-27.4 286.3 577.5)" fill="#8E67B8" fill-opacity="0.58" stroke="#333" stroke-width="1.2" stroke-dasharray="1.2,1.2"/>
<text x="222.50" y="454.00" font-size="11.5" fill="#404040" font-weight="normal" textLength="46.53" lengthAdjust="spacingAndGlyphs">yield point</text>
<line x1="272.5" y1="450.6" x2="292.0" y2="462.6" stroke="#000" stroke-width="1.1"/>
<path d="M297.2,465.8 L289.6,464.6 L292.4,459.8 Z" fill="#000"/>
<text x="109.42" y="644.75" font-size="11.5" fill="#404040" font-weight="normal" textLength="64.62" lengthAdjust="spacingAndGlyphs">slope = elastic</text>
<text x="122.23" y="657.75" font-size="11.5" fill="#404040" font-weight="normal" textLength="38.67" lengthAdjust="spacingAndGlyphs">modulus</text>
<path d="M68.2,669.2 L68.2,393.8" fill="none" stroke="#000" stroke-width="2"/>
<line x1="67.20" y1="669.20" x2="389.60" y2="669.20" stroke="#000" stroke-width="2" />
<line x1="389.00" y1="393.80" x2="389.00" y2="670.20" stroke="#000" stroke-width="1.2" />
<line x1="389.90" y1="393.80" x2="389.90" y2="670.20" stroke="#00B050" stroke-width="1.4" />
<line x1="389.30" y1="379.30" x2="395.20" y2="379.30" stroke="#00B050" stroke-width="1.4" />
<text x="406.14" y="385.30" font-size="16.5" fill="#00B050" font-weight="normal" textLength="33.94" lengthAdjust="spacingAndGlyphs" stroke="#00B050" stroke-width="0.25">0.40</text>
<line x1="389.30" y1="475.93" x2="395.20" y2="475.93" stroke="#00B050" stroke-width="1.4" />
<text x="406.14" y="481.93" font-size="16.5" fill="#00B050" font-weight="normal" textLength="33.94" lengthAdjust="spacingAndGlyphs" stroke="#00B050" stroke-width="0.25">0.35</text>
<line x1="389.30" y1="572.57" x2="395.20" y2="572.57" stroke="#00B050" stroke-width="1.4" />
<text x="406.14" y="578.57" font-size="16.5" fill="#00B050" font-weight="normal" textLength="33.94" lengthAdjust="spacingAndGlyphs" stroke="#00B050" stroke-width="0.25">0.30</text>
<line x1="389.30" y1="669.20" x2="395.20" y2="669.20" stroke="#00B050" stroke-width="1.4" />
<text x="406.14" y="675.20" font-size="16.5" fill="#00B050" font-weight="normal" textLength="33.94" lengthAdjust="spacingAndGlyphs" stroke="#00B050" stroke-width="0.25">0.25</text>
<text transform="translate(461.00,609.90) rotate(-90)" x="-1.36" y="0" font-size="17" fill="#00B050" font-weight="normal" textLength="172.82" lengthAdjust="spacingAndGlyphs" stroke="#00B050" stroke-width="0.25">Rare Event Indicator [-]</text>
<line x1="477.10" y1="379.30" x2="477.10" y2="669.20" stroke="#ED7D31" stroke-width="1.5" />
<line x1="476.90" y1="379.30" x2="482.60" y2="379.30" stroke="#ED7D31" stroke-width="1.4" />
<text x="494.14" y="385.30" font-size="16.5" fill="#ED7D31" font-weight="normal" textLength="33.94" lengthAdjust="spacingAndGlyphs" stroke="#ED7D31" stroke-width="0.25">0.30</text>
<line x1="476.90" y1="437.28" x2="482.60" y2="437.28" stroke="#ED7D31" stroke-width="1.4" />
<text x="494.14" y="443.28" font-size="16.5" fill="#ED7D31" font-weight="normal" textLength="34.08" lengthAdjust="spacingAndGlyphs" stroke="#ED7D31" stroke-width="0.25">0.29</text>
<line x1="476.90" y1="495.26" x2="482.60" y2="495.26" stroke="#ED7D31" stroke-width="1.4" />
<text x="494.14" y="501.26" font-size="16.5" fill="#ED7D31" font-weight="normal" textLength="33.94" lengthAdjust="spacingAndGlyphs" stroke="#ED7D31" stroke-width="0.25">0.28</text>
<line x1="476.90" y1="553.24" x2="482.60" y2="553.24" stroke="#ED7D31" stroke-width="1.4" />
<text x="494.14" y="559.24" font-size="16.5" fill="#ED7D31" font-weight="normal" textLength="34.08" lengthAdjust="spacingAndGlyphs" stroke="#ED7D31" stroke-width="0.25">0.27</text>
<line x1="476.90" y1="611.22" x2="482.60" y2="611.22" stroke="#ED7D31" stroke-width="1.4" />
<text x="494.14" y="617.22" font-size="16.5" fill="#ED7D31" font-weight="normal" textLength="33.94" lengthAdjust="spacingAndGlyphs" stroke="#ED7D31" stroke-width="0.25">0.26</text>
<line x1="476.90" y1="669.20" x2="482.60" y2="669.20" stroke="#ED7D31" stroke-width="1.4" />
<text x="494.14" y="675.20" font-size="16.5" fill="#ED7D31" font-weight="normal" textLength="33.94" lengthAdjust="spacingAndGlyphs" stroke="#ED7D31" stroke-width="0.25">0.25</text>
<text transform="translate(549.00,609.50) rotate(-90)" x="-0.00" y="0" font-size="17" fill="#ED7D31" font-weight="normal" textLength="167.22" lengthAdjust="spacingAndGlyphs" stroke="#ED7D31" stroke-width="0.25">Average FWHM [pixel]</text>
<line x1="563.50" y1="379.30" x2="563.50" y2="669.20" stroke="#0070C0" stroke-width="1.4" />
<line x1="562.90" y1="379.30" x2="569.20" y2="379.30" stroke="#0070C0" stroke-width="1.4" />
<text x="580.95" y="385.30" font-size="16.5" fill="#0070C0" font-weight="normal" textLength="33.55" lengthAdjust="spacingAndGlyphs" stroke="#0070C0" stroke-width="0.25">0.12</text>
<line x1="562.90" y1="427.62" x2="569.20" y2="427.62" stroke="#0070C0" stroke-width="1.4" />
<text x="580.95" y="433.62" font-size="16.5" fill="#0070C0" font-weight="normal" textLength="33.42" lengthAdjust="spacingAndGlyphs" stroke="#0070C0" stroke-width="0.25">0.10</text>
<line x1="562.90" y1="475.93" x2="569.20" y2="475.93" stroke="#0070C0" stroke-width="1.4" />
<text x="580.95" y="481.93" font-size="16.5" fill="#0070C0" font-weight="normal" textLength="33.42" lengthAdjust="spacingAndGlyphs" stroke="#0070C0" stroke-width="0.25">0.08</text>
<line x1="562.90" y1="524.25" x2="569.20" y2="524.25" stroke="#0070C0" stroke-width="1.4" />
<text x="580.95" y="530.25" font-size="16.5" fill="#0070C0" font-weight="normal" textLength="33.42" lengthAdjust="spacingAndGlyphs" stroke="#0070C0" stroke-width="0.25">0.06</text>
<line x1="562.90" y1="572.57" x2="569.20" y2="572.57" stroke="#0070C0" stroke-width="1.4" />
<text x="580.95" y="578.57" font-size="16.5" fill="#0070C0" font-weight="normal" textLength="33.15" lengthAdjust="spacingAndGlyphs" stroke="#0070C0" stroke-width="0.25">0.04</text>
<line x1="562.90" y1="620.88" x2="569.20" y2="620.88" stroke="#0070C0" stroke-width="1.4" />
<text x="580.95" y="626.88" font-size="16.5" fill="#0070C0" font-weight="normal" textLength="33.55" lengthAdjust="spacingAndGlyphs" stroke="#0070C0" stroke-width="0.25">0.02</text>
<line x1="562.90" y1="669.20" x2="569.20" y2="669.20" stroke="#0070C0" stroke-width="1.4" />
<text x="580.95" y="675.20" font-size="16.5" fill="#0070C0" font-weight="normal" textLength="33.42" lengthAdjust="spacingAndGlyphs" stroke="#0070C0" stroke-width="0.25">0.00</text>
<text transform="translate(634.70,613.60) rotate(-90)" x="-0.00" y="0" font-size="17" fill="#0070C0" font-weight="normal" textLength="177.87" lengthAdjust="spacingAndGlyphs" stroke="#0070C0" stroke-width="0.25">Average Axial Strain [%]</text>
<rect x="562.4" y="433.6" width="1.8" height="2.4" fill="#FFC000"/>
<rect x="476.2" y="433.6" width="1.8" height="2.4" fill="#FFC000"/>
</svg></body></html>
